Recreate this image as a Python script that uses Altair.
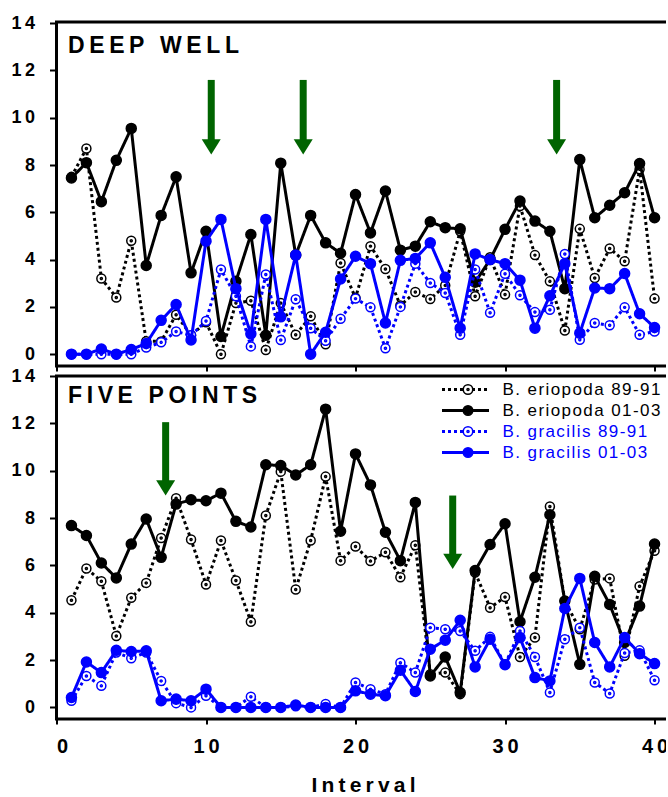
import altair as alt
import pandas as pd

interval = list(range(1, 41))

series_names = [
    "B. eriopoda 89-91",
    "B. eriopoda 01-03",
    "B. gracilis 89-91",
    "B. gracilis 01-03",
]
series_colors = ["#000000", "#000000", "#0000ff", "#0000ff"]
marker_fills = ["#ffffff", "#000000", "#ffffff", "#0000ff"]
series_dashes = [[3, 3], [1, 0], [3, 3], [1, 0]]

# DEEP WELL cover by interval
deep_well_erio_8991 = [7.5, 8.7, 3.2, 2.4, 4.8, 0.55, 0.54, 1.67, 0.8, 1.35,
                       0.0, 2.16, 2.26, 0.18, 2.16, 0.82, 1.6, 0.42, 3.86, 2.38,
                       4.57, 3.6, 2.06, 2.63, 2.33, 2.91, 5.2, 2.45, 4.1, 2.52,
                       6.27, 4.19, 3.08, 1.0, 5.3, 3.22, 4.47, 3.93, 7.82, 2.35]
deep_well_erio_0103 = [7.45, 8.1, 6.45, 8.2, 9.55, 3.75, 5.87, 7.5, 3.44, 5.2,
                       0.75, 3.08, 5.06, 0.8, 8.08, 4.19, 5.87, 4.71, 4.27, 6.75,
                       5.13, 6.9, 4.4, 4.57, 5.6, 5.35, 5.3, 3.04, 4.0, 5.28,
                       6.48, 5.63, 5.2, 2.77, 8.23, 5.77, 6.3, 6.83, 8.06, 5.77]
deep_well_grac_8991 = [0.0, 0.0, 0.0, 0.0, 0.0, 0.28, 0.5, 0.96, 0.8, 1.4,
                       3.58, 2.45, 0.33, 3.37, 0.6, 2.32, 1.1, 0.57, 1.5, 2.35,
                       1.98, 0.25, 2.0, 3.83, 3.01, 2.59, 0.82, 3.58, 1.75, 3.4,
                       2.49, 1.78, 1.88, 4.24, 0.61, 1.32, 1.22, 1.98, 0.82, 0.96]
deep_well_grac_0103 = [0.0, 0.0, 0.22, 0.0, 0.2, 0.45, 1.43, 2.1, 0.6, 4.78,
                       5.7, 2.77, 0.86, 5.7, 1.58, 4.19, 0.0, 0.93, 3.18, 4.14,
                       3.83, 1.32, 3.97, 4.05, 4.71, 3.25, 1.1, 4.24, 4.0, 3.83,
                       3.13, 1.1, 2.47, 3.83, 0.89, 2.8, 2.77, 3.41, 1.71, 1.13]

# FIVE POINTS cover by interval
five_points_erio_8991 = [4.53, 5.87, 5.33, 3.02, 4.63, 5.26, 7.16, 8.84, 7.09, 5.19,
                         7.05, 5.36, 3.62, 8.11, 9.96, 4.98, 7.05, 9.75, 6.2, 6.8,
                         6.18, 6.55, 5.5, 6.85, 1.4, 1.47, 0.56, 5.7, 4.21, 4.66,
                         2.13, 2.95, 8.49, 4.49, 3.3, 5.4, 5.45, 2.18, 5.12, 6.62]
five_points_erio_0103 = [7.68, 7.26, 6.1, 5.47, 6.9, 7.96, 6.34, 8.59, 8.77, 8.73,
                         9.05, 7.86, 7.62, 10.25, 10.22, 9.82, 10.25, 12.6, 7.44, 10.71,
                         9.4, 7.4, 6.2, 8.66, 1.33, 2.13, 0.63, 5.78, 6.88, 7.76,
                         3.62, 5.5, 8.14, 4.49, 1.82, 5.54, 4.35, 2.74, 4.28, 6.9]
five_points_grac_8991 = [0.28, 1.33, 0.91, 2.32, 2.08, 2.32, 1.12, 0.18, 0.0, 0.49,
                         0.0, 0.0, 0.45, 0.0, 0.0, 0.05, 0.0, 0.14, 0.0, 1.05,
                         0.77, 0.56, 1.89, 1.47, 3.37, 3.3, 3.23, 2.39, 2.98, 1.82,
                         3.23, 2.13, 0.63, 2.88, 3.37, 1.05, 0.59, 2.3, 2.41, 1.15]
five_points_grac_0103 = [0.42, 1.92, 1.47, 2.41, 2.36, 2.39, 0.28, 0.35, 0.28, 0.77,
                         0.0, 0.0, 0.0, 0.0, 0.0, 0.1, 0.0, 0.0, 0.0, 0.7,
                         0.56, 0.49, 1.57, 0.67, 2.46, 2.84, 3.68, 1.71, 2.88, 1.8,
                         2.95, 1.26, 1.12, 4.18, 5.45, 2.74, 1.71, 2.95, 2.27, 1.85]

# green arrows: interval position, top of shaft, tip
deep_well_arrow_x = [10.35, 16.5, 33.45]
deep_well_arrow_top = [11.6, 11.6, 11.6]
deep_well_arrow_tip = [8.45, 8.45, 8.45]

five_points_arrow_x = [7.3, 26.5]
five_points_arrow_top = [12.05, 8.95]
five_points_arrow_tip = [8.95, 5.85]

FONT = "Liberation Sans"
GREEN = "#006400"
THIN = "\u2009"
HAIR = "\u200a"

# open ring with a centre dot, and a downward arrow head
RING = ("M1,0A1,1,0,1,1,-1,0A1,1,0,1,1,1,0Z"
        "M0.22,0A0.22,0.22,0,1,1,-0.22,0A0.22,0.22,0,1,1,0.22,0Z")
HEAD = "M-1,-0.8L1,-0.8L0,0.8Z"
marker_shapes = [RING, "circle", RING, "circle"]
marker_sizes = [81, 100, 81, 100]


def spaced(text, gap=THIN):
    return gap.join(text)


x_scale = alt.Scale(domain=[0, 41], nice=False, zero=False)

label_color = "indexof(datum.value, 'gracilis') >= 0 ? '#0000ff' : '#000000'"


def panel(site, series_values, arrow_x, arrow_top, arrow_tip, title_y,
          y_domain, height, bottom):
    rows = []
    for k, (name, vals) in enumerate(zip(series_names, series_values)):
        for i, v in zip(interval, vals):
            rows.append({"interval": i, "value": v, "series": name, "k": k})
    df = pd.DataFrame(rows)

    y_scale = alt.Scale(domain=y_domain, nice=False, zero=False)
    y_axis = alt.Axis(
        values=list(range(0, 15, 2)), title=None, grid=False, domain=False,
        tickSize=7, tickWidth=2, tickColor="black",
        labelFont=FONT, labelFontSize=18, labelFontWeight="bold",
        labelColor="black", labelPadding=15,
        labelExpr=f"join(split(datum.label, ''), '{THIN}')",
    )
    if bottom:
        x_axis = alt.Axis(
            values=[0, 10, 20, 30, 40], grid=False, domain=False,
            tickSize=5, tickWidth=2, tickColor="black",
            labelFont=FONT, labelFontSize=20, labelFontWeight="bold",
            labelColor="black", labelPadding=12,
            labelExpr=f"join(split(datum.label, ''), '{THIN}')",
            title=spaced("Interval"), titleFont=FONT, titleFontSize=21,
            titleFontWeight="bold", titleColor="black", titlePadding=18,
        )
        line_legend = alt.Legend(
            title=None, orient="none", legendX=384, legendY=5, padding=0,
            symbolType="stroke", symbolSize=2209, symbolStrokeWidth=3,
            clipHeight=17, rowPadding=3,
            labelFont=FONT, labelFontSize=17, labelOffset=12,
            labelExpr=f"join(split(datum.label, ''), '{HAIR}')",
            labelColor={"expr": label_color},
        )
        point_legend = alt.Legend(
            title=None, orient="none", legendX=403, legendY=5, padding=0,
            symbolSize=90, symbolStrokeWidth=1.5,
            clipHeight=17, rowPadding=3,
            labelFont=FONT, labelFontSize=17, labelOpacity=0,
        )
    else:
        x_axis = alt.Axis(
            values=[0, 10, 20, 30, 40], grid=False, domain=False,
            tickSize=5, tickWidth=2, tickColor="black",
            labels=False, title=None,
        )
        line_legend = None
        point_legend = None

    color_scale = alt.Scale(domain=series_names, range=series_colors)
    dash_scale = alt.Scale(domain=series_names, range=series_dashes)
    stroke_scale = alt.Scale(domain=[0, 1, 2, 3], range=series_colors)
    fill_scale = alt.Scale(domain=[0, 1, 2, 3], range=marker_fills)
    shape_scale = alt.Scale(domain=[0, 1, 2, 3], range=marker_shapes)

    base = alt.Chart(df)
    layers = []
    for k in range(4):
        sub = base.transform_filter(alt.datum.k == k)
        line = sub.mark_line(strokeWidth=3, strokeCap="butt",
                             strokeJoin="round").encode(
            x=alt.X("interval:Q", scale=x_scale, axis=x_axis),
            y=alt.Y("value:Q", scale=y_scale, axis=y_axis),
            color=alt.Color("series:N", scale=color_scale, legend=line_legend),
            strokeDash=alt.StrokeDash("series:N", scale=dash_scale,
                                      legend=line_legend),
        )
        pts = sub.mark_point(filled=True, opacity=1, strokeWidth=1.5,
                             size=marker_sizes[k]).encode(
            x=alt.X("interval:Q", scale=x_scale, axis=x_axis),
            y=alt.Y("value:Q", scale=y_scale, axis=y_axis),
            stroke=alt.Stroke("k:O", scale=stroke_scale, legend=point_legend),
            fill=alt.Fill("k:O", scale=fill_scale, legend=point_legend),
            shape=alt.Shape("k:O", scale=shape_scale, legend=point_legend),
        )
        layers += [line, pts]

    arrows = pd.DataFrame({"x": arrow_x, "top": arrow_top, "tip": arrow_tip})
    shaft = alt.Chart(arrows).mark_rule(
        color=GREEN, strokeWidth=7, strokeCap="butt", y2Offset=-10
    ).encode(
        x=alt.X("x:Q", scale=x_scale, axis=x_axis),
        y=alt.Y("top:Q", scale=y_scale, axis=y_axis),
        y2="tip:Q",
    )
    head = alt.Chart(arrows).mark_point(
        shape=HEAD, size=361, filled=True, fill=GREEN, strokeWidth=0,
        opacity=1, yOffset=-7.6
    ).encode(
        x=alt.X("x:Q", scale=x_scale, axis=x_axis),
        y=alt.Y("tip:Q", scale=y_scale, axis=y_axis),
    )

    title = alt.Chart(pd.DataFrame({"site": [spaced(site)]})).mark_text(
        align="left", baseline="alphabetic", font=FONT, fontSize=23,
        fontWeight="bold", color="black"
    ).encode(x=alt.value(11.5), y=alt.value(title_y), text="site:N")

    return alt.layer(*layers, shaft, head, title).properties(
        width=613, height=height
    )


top = panel("DEEP WELL",
            [deep_well_erio_8991, deep_well_erio_0103,
             deep_well_grac_8991, deep_well_grac_0103],
            deep_well_arrow_x, deep_well_arrow_top, deep_well_arrow_tip,
            31, [-0.5, 14.05], 344, False)
bottom = panel("FIVE POINTS",
               [five_points_erio_8991, five_points_erio_0103,
                five_points_grac_8991, five_points_grac_0103],
               five_points_arrow_x, five_points_arrow_top, five_points_arrow_tip,
               27, [-0.49, 14.0], 343, True)

chart = alt.vconcat(top, bottom, spacing=10, bounds="flush").resolve_scale(
    color="independent", strokeDash="independent", stroke="independent",
    fill="independent", shape="independent",
).properties(
    padding={"left": 8.5, "top": 12, "right": -6, "bottom": 2},
    background="white",
).configure_view(stroke="black", strokeWidth=3)

chart.save("out.html", embed_options={"renderer": "svg", "actions": False})
